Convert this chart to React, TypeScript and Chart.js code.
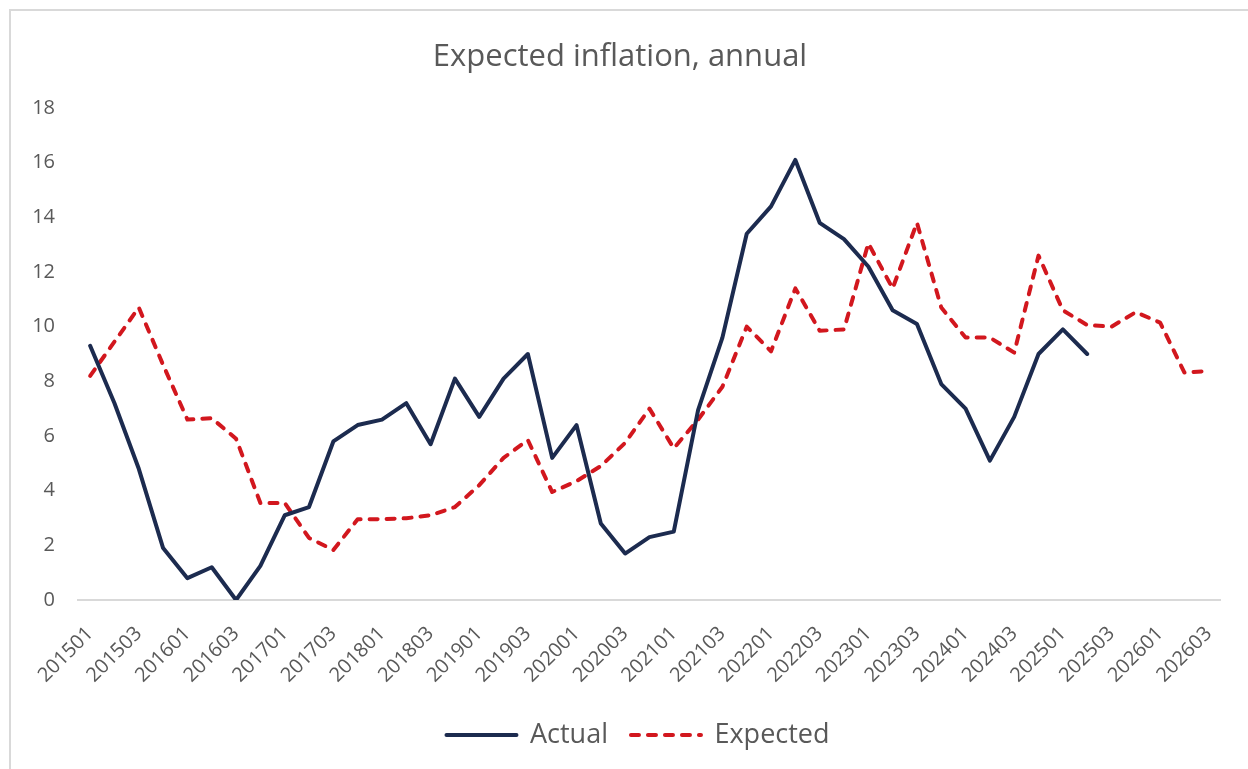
import React, { useEffect, useRef } from "react";
import { Chart, registerables } from "chart.js";

Chart.register(...registerables);

const TITLE = "Expected inflation, annual";

const categories = [
  "201501", "201502", "201503", "201504",
  "201601", "201602", "201603", "201604",
  "201701", "201702", "201703", "201704",
  "201801", "201802", "201803", "201804",
  "201901", "201902", "201903", "201904",
  "202001", "202002", "202003", "202004",
  "202101", "202102", "202103", "202104",
  "202201", "202202", "202203", "202204",
  "202301", "202302", "202303", "202304",
  "202401", "202402", "202403", "202404",
  "202501", "202502", "202503", "202504",
  "202601", "202602", "202603",
];

const actual: (number | null)[] = [
  9.3, 7.2, 4.8, 1.9,
  0.8, 1.2, 0.0, 1.25,
  3.1, 3.4, 5.8, 6.4,
  6.6, 7.2, 5.7, 8.1,
  6.7, 8.1, 9.0, 5.2,
  6.4, 2.8, 1.7, 2.3,
  2.5, 6.95, 9.6, 13.4,
  14.4, 16.1, 13.8, 13.2,
  12.2, 10.6, 10.1, 7.9,
  7.0, 5.1, 6.7, 9.0,
  9.9, 9.0, null, null,
  null, null, null,
];

const expected: number[] = [
  8.2, 9.45, 10.7, 8.6,
  6.6, 6.65, 5.9, 3.55,
  3.55, 2.27, 1.83, 2.95,
  2.96, 2.99, 3.1, 3.4,
  4.2, 5.2, 5.85, 3.95,
  4.35, 4.9, 5.75, 7.0,
  5.55, 6.6, 7.8, 10.0,
  9.1, 11.4, 9.85, 9.9,
  13.05, 11.4, 13.8, 10.7,
  9.6, 9.6, 9.05, 12.6,
  10.6, 10.06, 10.0, 10.53,
  10.15, 8.32, 8.38,
];

const Y_MIN = 0;
const Y_MAX = 18;
const Y_STEP = 2;

const GRAY = "#595959";
const FONT = "'Open Sans', sans-serif";
const LINE_W = 4;
const DASH = [8, 9];

export default function App() {
  const canvasRef = useRef<HTMLCanvasElement | null>(null);

  useEffect(() => {
    const canvas = canvasRef.current;
    if (!canvas) return;
    Chart.defaults.font.family = FONT;

    const shiftLegend = {
      id: "shiftLegend",
      afterLayout(chart: any) {
        const lg = chart.legend;
        if (lg) {
          lg.left += 18;
          lg.right += 18;
        }
      },
    };

    const defaultGen = (Chart.defaults as any).plugins.legend.labels.generateLabels;

    const chart = new Chart(canvas, {
      type: "line",
      data: {
        labels: categories,
        datasets: [
          {
            label: "Actual",
            data: actual,
            borderColor: "#1c2b4f",
            backgroundColor: "#1c2b4f",
            borderWidth: LINE_W,
            pointRadius: 0,
            pointHoverRadius: 0,
            tension: 0,
            fill: false,
            borderJoinStyle: "round",
            borderCapStyle: "round",
          },
          {
            label: "Expected",
            data: expected,
            borderColor: "#d2171e",
            backgroundColor: "#d2171e",
            borderWidth: LINE_W,
            borderDash: DASH,
            borderCapStyle: "round",
            borderJoinStyle: "round",
            pointRadius: 0,
            pointHoverRadius: 0,
            tension: 0,
            fill: false,
          },
        ],
      },
      options: {
        animation: false,
        responsive: false,
        events: [],
        layout: { padding: { top: 0, left: 18, right: 26, bottom: 10.5 } },
        plugins: {
          title: {
            display: true,
            text: TITLE,
            color: GRAY,
            font: { family: FONT, size: 31, weight: "normal" },
            padding: { top: 38.4, bottom: 32.4 },
          },
          legend: {
            position: "bottom",
            labels: {
              color: GRAY,
              font: { family: FONT, size: 27 },
              usePointStyle: true,
              pointStyle: "line",
              pointStyleWidth: 70,
              padding: 23,
              generateLabels: (chart: any) => {
                const items = defaultGen(chart);
                items.forEach((it: any) => {
                  const ds = chart.data.datasets[it.datasetIndex];
                  it.lineDash = ds.borderDash || [];
                  it.lineWidth = LINE_W;
                  it.lineCap = "round";
                  it.strokeStyle = ds.borderColor;
                  it.fillStyle = ds.borderColor;
                  it.pointStyle = "line";
                });
                return items;
              },
            },
          },
          tooltip: { enabled: false },
        },
        scales: {
          x: {
            offset: true,
            grid: { display: false, drawTicks: false },
            border: { display: true, color: "#d9d9d9", width: 2 },
            ticks: {
              autoSkip: false,
              minRotation: 45,
              maxRotation: 45,
              padding: 22,
              color: GRAY,
              font: { family: FONT, size: 20 },
              callback: (_v: any, i: number) => (i % 2 === 0 ? categories[i] : ""),
            },
            afterFit: (s: any) => {
              s.height = 98.5;
            },
          },
          y: {
            min: Y_MIN,
            max: Y_MAX,
            grid: { display: false, drawTicks: false },
            border: { display: false },
            ticks: {
              stepSize: Y_STEP,
              padding: 23,
              color: GRAY,
              font: { family: FONT, size: 20 },
            },
            afterFit: (s: any) => {
              s.width = 60;
            },
          },
        },
      },
      plugins: [shiftLegend],
    } as any);

    return () => chart.destroy();
  }, []);

  return (
    <div
      style={{
        position: "fixed",
        left: 0,
        top: 0,
        width: 1248,
        height: 769,
        background: "#ffffff",
        overflow: "hidden",
      }}
    >
      <div
        style={{
          position: "absolute",
          left: 9,
          top: 9,
          width: 1300,
          height: 820,
          border: "2px solid #d9d9d9",
          boxSizing: "border-box",
        }}
      />
      <canvas
        ref={canvasRef}
        width={1248}
        height={769}
        style={{ position: "absolute", left: 0, top: 0, width: 1248, height: 769 }}
      />
    </div>
  );
}
